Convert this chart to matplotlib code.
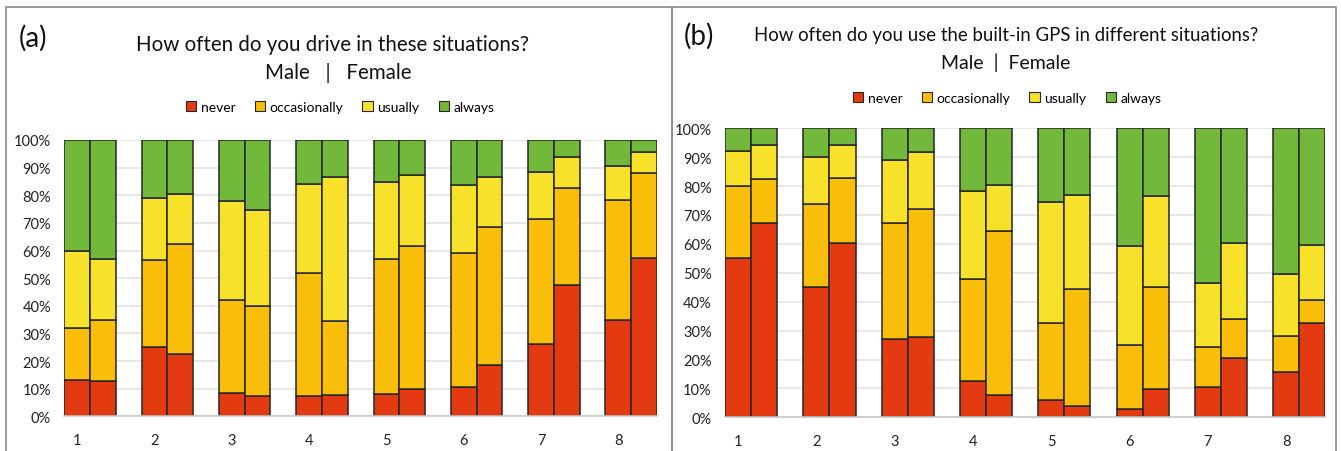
import matplotlib
matplotlib.use("Agg")
import matplotlib.pyplot as plt
from matplotlib.patches import Rectangle, Patch
import numpy as np

plt.rcParams['font.family'] = ['Lato', 'DejaVu Sans']

groups = ["1", "2", "3", "4", "5", "6", "7", "8"]
categories = ["never", "occasionally", "usually", "always"]
colors = ["#E33A12", "#F8BE0A", "#F8E12A", "#72B83A"]

# Panel (a): cumulative tops (never, occasionally, usually), always up to 100
a_male_cum = {
    "never":        [13.0, 25.0, 8.5, 7.5, 8.1, 10.5, 26.2, 35.0],
    "occasionally": [32.0, 56.5, 42.0, 52.0, 56.9, 59.1, 71.5, 78.3],
    "usually":      [60.0, 79.0, 78.0, 84.0, 84.7, 83.6, 88.3, 90.7],
}
a_female_cum = {
    "never":        [12.8, 22.5, 7.3, 7.8, 10.0, 18.6, 47.4, 57.4],
    "occasionally": [35.0, 62.5, 40.0, 34.5, 61.8, 68.5, 82.5, 88.0],
    "usually":      [57.0, 80.5, 74.5, 86.5, 87.5, 86.7, 93.7, 95.8],
}
# Panel (b)
b_male_cum = {
    "never":        [55.0, 45.0, 27.2, 12.6, 5.9, 2.7, 10.4, 15.6],
    "occasionally": [80.0, 73.8, 67.4, 47.9, 32.6, 25.1, 24.2, 28.3],
    "usually":      [92.0, 90.0, 89.2, 78.4, 74.4, 59.3, 46.3, 49.7],
}
b_female_cum = {
    "never":        [67.2, 60.2, 27.8, 7.8, 3.8, 9.9, 20.6, 32.6],
    "occasionally": [82.4, 82.8, 72.0, 64.6, 44.4, 45.1, 33.9, 40.5],
    "usually":      [94.1, 94.1, 91.9, 80.3, 76.9, 76.6, 60.3, 59.5],
}

titles = ["How often do you drive in these situations?",
          "How often do you use the built-in GPS in different situations?"]
subtitle = ["Male   |   Female", "Male  |  Female"]
panel_labels = ["(a)", "(b)"]

W, H = 1341, 452
fig = plt.figure(figsize=(W / 100, H / 100), dpi=100)


def fx(px):
    return px / W


def fy(py):
    return 1 - py / H


def to_segments(cum):
    lows = [np.zeros(8)]
    heights = []
    prev = np.zeros(8)
    for c in ["never", "occasionally", "usually"]:
        cur = np.array(cum[c])
        heights.append(cur - prev)
        lows.append(cur)
        prev = cur
    heights.append(100 - prev)
    return lows[:4], heights


def draw_panel(ax, male, female):
    x = np.arange(1, 9)
    w = 1 / 3
    for data, off in ((male, -w / 2), (female, w / 2)):
        bottoms, heights = to_segments(data)
        for b, h, col in zip(bottoms, heights, colors):
            ax.bar(x + off, h, width=w, bottom=b, color=col,
                   edgecolor="#262626", linewidth=1.1, zorder=3)
    ax.set_xlim(1 - w, 8 + w)
    ax.set_ylim(0, 100)
    ax.set_yticks(np.arange(0, 101, 10))
    ax.set_yticklabels([f"{v}%" for v in range(0, 101, 10)])
    ax.set_xticks(x - w / 2)
    ax.set_xticklabels(groups)
    ax.tick_params(axis="both", length=0, labelsize=10.5, colors="#222222")
    ax.tick_params(axis="y", pad=9.5)
    ax.tick_params(axis="x", pad=12)
    ax.grid(axis="y", color="#E3E3E3", linewidth=1.2, zorder=0)
    for s in ["top", "right", "left"]:
        ax.spines[s].set_visible(False)
    ax.spines["bottom"].set_color("#C8C8C8")
    ax.spines["bottom"].set_linewidth(1.2)
    ax.spines["bottom"].set_zorder(4)


# axes positions (pixels)
axa = fig.add_axes([fx(64.3), fy(417.3), fx(657 - 64.3), (417.3 - 141) / H])
axb = fig.add_axes([fx(725), fy(418.3), fx(1325.3 - 725), (418.3 - 129.3) / H])
draw_panel(axa, a_male_cum, a_female_cum)
draw_panel(axb, b_male_cum, b_female_cum)

# panel frames
fig.patches.append(Rectangle((fx(6), fy(460)), fx(672 - 6), (460 - 8) / H,
                             transform=fig.transFigure, fill=False,
                             edgecolor="#8a8a8a", linewidth=1.2))
fig.patches.append(Rectangle((fx(672), fy(460)), fx(1336 - 672), (460 - 8) / H,
                             transform=fig.transFigure, fill=False,
                             edgecolor="#8a8a8a", linewidth=1.2))

# texts
fig.text(fx(19), fy(38), panel_labels[0], fontsize=20, va="center", ha="left", color="#111111")
fig.text(fx(684), fy(36), panel_labels[1], fontsize=20, va="center", ha="left", color="#111111")
fig.text(fx(332), fy(45), titles[0], fontsize=14.8, va="center", ha="center", color="#111111")
fig.text(fx(338), fy(73), subtitle[0], fontsize=14.8, va="center", ha="center", color="#111111")
fig.text(fx(1006), fy(35), titles[1], fontsize=13.4, va="center", ha="center", color="#111111")
fig.text(fx(1006), fy(63), subtitle[1], fontsize=14, va="center", ha="center", color="#111111")

handles = [Patch(facecolor=c, edgecolor="#262626", linewidth=0.8, label=l)
           for c, l in zip(colors, categories)]
fig.legend(handles=handles, loc="center", bbox_to_anchor=(fx(340), fy(108)),
           ncol=4, frameon=False, fontsize=10, handlelength=0.75, handleheight=0.75,
           handletextpad=0.3, columnspacing=1.4)
fig.legend(handles=handles, loc="center", bbox_to_anchor=(fx(1007), fy(99)),
           ncol=4, frameon=False, fontsize=10, handlelength=0.75, handleheight=0.75,
           handletextpad=0.3, columnspacing=1.4)

fig.savefig("out.png", dpi=100, facecolor="white")
